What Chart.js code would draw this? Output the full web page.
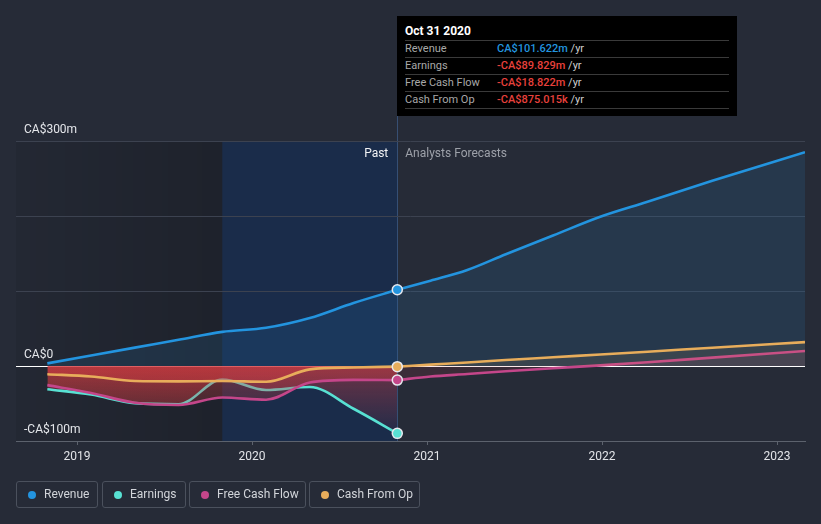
<!DOCTYPE html>
<html>
<head>
<meta charset="utf-8">
<script src="https://cdn.jsdelivr.net/npm/chart.js@4.4.1/dist/chart.umd.min.js"></script>
<style>
html,body{margin:0;padding:0;background:#262b37;}
#wrap{position:relative;width:821px;height:524px;overflow:hidden;font-family:Roboto,"Noto Sans",sans-serif;}
#c{position:absolute;left:0;top:0;}
#tip{position:absolute;left:397px;top:16px;width:340px;height:100px;background:#000;box-sizing:border-box;padding:0 8px;}
#tip .title{position:absolute;left:8px;top:7px;height:16px;line-height:16px;font-size:12px;font-weight:bold;color:#fff;}
#tip .rows{position:absolute;left:8px;top:24px;width:324px;border-bottom:1px solid #3a3a3a;}
#tip .row{height:16px;line-height:16px;border-top:1px solid #3a3a3a;font-size:11px;color:#a8a8a8;white-space:nowrap;}
#tip .row span.l{display:inline-block;width:92px;}
#tip .row span.v{font-weight:500;}
#tip .row span.u{color:#cfcfcf;}
#legend{position:absolute;left:0;top:481px;height:27px;}
.lg{position:absolute;top:0;height:25px;border:1px solid #4b515d;border-radius:3px;color:#d2d5da;font-size:12px;line-height:25px;box-sizing:content-box;white-space:nowrap;}
.lg i{position:absolute;left:11px;top:8.5px;width:8px;height:8px;border-radius:50%;}
.lg span{position:absolute;left:27px;top:0;}
</style>
</head>
<body>
<div id="wrap">
<canvas id="c" width="821" height="524"></canvas>
<div id="tip">
  <div class="title">Oct 31 2020</div>
  <div class="rows">
    <div class="row"><span class="l">Revenue</span><span class="v" style="color:#2394df">CA$101.622m</span><span class="u"> /yr</span></div>
    <div class="row"><span class="l">Earnings</span><span class="v" style="color:#e8413c">-CA$89.829m</span><span class="u"> /yr</span></div>
    <div class="row"><span class="l">Free Cash Flow</span><span class="v" style="color:#e8413c">-CA$18.822m</span><span class="u"> /yr</span></div>
    <div class="row"><span class="l">Cash From Op</span><span class="v" style="color:#e8413c">-CA$875.015k</span><span class="u"> /yr</span></div>
  </div>
</div>
<div id="legend">
  <div class="lg" style="left:16px;width:80px"><i style="background:#2394df"></i><span>Revenue</span></div>
  <div class="lg" style="left:102px;width:82px"><i style="background:#58e1d3"></i><span>Earnings</span></div>
  <div class="lg" style="left:189px;width:115px"><i style="background:#c4468a"></i><span>Free Cash Flow</span></div>
  <div class="lg" style="left:309px;width:109px"><i style="background:#e8ad5b"></i><span>Cash From Op</span></div>
</div>
</div>
<script>
// ---- data (CA$ millions, x = decimal year) ----
const pastDates       = [2018.83, 2019.08, 2019.33, 2019.58, 2019.83, 2020.08, 2020.33, 2020.58, 2020.83];
const revenuePast     = [3.5, 14, 24.5, 35, 45.5, 51, 64, 84, 101.622];
const earningsPast    = [-31, -38, -49.5, -51, -18, -32, -28, -57, -89.829];
const fcfPast         = [-25.5, -36, -49, -52, -42, -45, -22, -18.5, -18.822];
const cashOpPast      = [-11, -14, -20, -20.5, -20, -21, -4.5, -2, -0.875];

const forecastDates   = [2020.83, 2021.02, 2021.23, 2021.45, 2021.72, 2021.99, 2022.26, 2022.63, 2023.16];
const revenueForecast = [101.622, 113.8, 128, 149, 174, 199, 219, 247, 285];
const fcfForecast     = [-18.822, -14, -10.7, -7.1, -3, 0.8, 5, 11.2, 20];
const cashOpForecast  = [-0.875, 1.8, 4.7, 7.9, 11.6, 15.4, 19.1, 24.4, 31.8];

const xTickYears      = [2019, 2020, 2021, 2022, 2023];
const yGridValues     = [-100, 0, 100, 200, 300];
const yLabelValues    = [300, 0, -100];
const yLabelTexts     = ['CA$300m', 'CA$0', '-CA$100m'];

const tooltipDate     = 2020.83;
const highlightStart  = 2019.83;
const xMin = 2018.651, xMax = 2023.16;

const COL = {rev:'#2394df', earn:'#58e1d3', fcf:'#c4468a', cash:'#e8ad5b'};

const pts = (xs, ys) => xs.map((x, i) => ({x, y: ys[i]}));

function redFill(c){
  const ch = c.chart, ca = ch.chartArea;
  if (!ca || !ch.scales.y) return 'rgba(215,60,65,0.3)';
  const y = ch.scales.y;
  const g = ch.ctx.createLinearGradient(0, y.getPixelForValue(0), 0, y.getPixelForValue(-100));
  g.addColorStop(0, 'rgba(215,60,65,0.44)');
  g.addColorStop(1, 'rgba(215,60,65,0.0)');
  return g;
}
const lastRadius = (n) => (c) => c.dataIndex === n - 1 ? 5 : 0;

const base = {
  borderWidth: 2.6,
  cubicInterpolationMode: 'monotone',
  pointBorderColor: '#e8e8ee',
  pointBorderWidth: 1.5,
  pointHoverRadius: 0,
};

const datasets = [
  // past
  Object.assign({}, base, {label:'Cash From Op', data: pts(pastDates, cashOpPast), borderColor: COL.cash,
    pointBackgroundColor: COL.cash, pointRadius: lastRadius(pastDates.length),
    fill: {target:'origin', above:'rgba(0,0,0,0)'}, backgroundColor: redFill, order: 0}),
  Object.assign({}, base, {label:'Free Cash Flow', data: pts(pastDates, fcfPast), borderColor: COL.fcf,
    pointBackgroundColor: COL.fcf, pointRadius: lastRadius(pastDates.length),
    fill: {target:'origin', above:'rgba(0,0,0,0)'}, backgroundColor: redFill, order: 1}),
  Object.assign({}, base, {label:'Earnings', data: pts(pastDates, earningsPast), borderColor: COL.earn,
    pointBackgroundColor: COL.earn, pointRadius: lastRadius(pastDates.length),
    fill: {target:'origin', above:'rgba(0,0,0,0)'}, backgroundColor: redFill, order: 2}),
  Object.assign({}, base, {label:'Revenue', data: pts(pastDates, revenuePast), borderColor: COL.rev,
    pointBackgroundColor: COL.rev, pointRadius: lastRadius(pastDates.length),
    fill: {target:'origin'}, backgroundColor: 'rgba(35,148,223,0.13)', order: 3}),
  // forecast
  Object.assign({}, base, {label:'Cash From Op forecast', data: pts(forecastDates, cashOpForecast), borderColor: COL.cash,
    pointRadius: 0, fill: {target:'origin', above:'rgba(232,173,91,0.10)', below:'rgba(215,60,65,0.10)'}, order: 0}),
  Object.assign({}, base, {label:'Free Cash Flow forecast', data: pts(forecastDates, fcfForecast), borderColor: COL.fcf,
    pointRadius: 0, fill: {target:'origin', above:'rgba(196,70,138,0.10)', below:'rgba(215,60,65,0.12)'}, order: 1}),
  Object.assign({}, base, {label:'Revenue forecast', data: pts(forecastDates, revenueForecast), borderColor: COL.rev,
    pointRadius: 0, fill: {target:'origin'}, backgroundColor: 'rgba(35,148,223,0.13)', order: 3}),
];

const regionsPlugin = {
  id: 'regions',
  beforeDraw(chart){
    const {ctx, chartArea: ca, scales: {x}} = chart;
    const hx = x.getPixelForValue(highlightStart);
    const tx = x.getPixelForValue(tooltipDate);
    ctx.save();
    const g = ctx.createLinearGradient(ca.left, 0, hx, 0);
    g.addColorStop(0, 'rgba(0,0,0,0.06)');
    g.addColorStop(1, 'rgba(0,0,0,0.2)');
    ctx.fillStyle = g;
    ctx.fillRect(ca.left, ca.top, hx - ca.left, ca.bottom - ca.top);
    ctx.fillStyle = 'rgba(10,45,100,0.42)';
    ctx.fillRect(hx, ca.top, tx - hx, ca.bottom - ca.top);
    ctx.strokeStyle = 'rgba(70,110,165,0.55)';
    ctx.lineWidth = 1;
    ctx.beginPath();
    ctx.moveTo(Math.round(tx) + 0.5, 16);
    ctx.lineTo(Math.round(tx) + 0.5, ca.bottom);
    ctx.stroke();
    ctx.restore();
  },
  afterDatasetsDraw(chart){
    const {ctx, chartArea: ca, scales: {x, y}} = chart;
    ctx.save();
    ctx.font = '12px Roboto, "Noto Sans", sans-serif';
    ctx.fillStyle = '#e4e6ea';
    ctx.textBaseline = 'alphabetic';
    ctx.textAlign = 'left';
    yLabelValues.forEach((v, i) => {
      ctx.fillText(yLabelTexts[i], ca.left + 8, y.getPixelForValue(v) - 8);
    });
    const tx = x.getPixelForValue(tooltipDate);
    ctx.textBaseline = 'middle';
    ctx.textAlign = 'right';
    ctx.fillStyle = '#f2f3f5';
    ctx.fillText('Past', tx - 9, ca.top + 12.5);
    ctx.textAlign = 'left';
    ctx.fillStyle = '#9da1a9';
    ctx.fillText('Analysts Forecasts', tx + 8, ca.top + 12.5);
    ctx.restore();
  }
};

new Chart(document.getElementById('c'), {
  type: 'line',
  data: { datasets },
  plugins: [regionsPlugin],
  options: {
    responsive: false,
    animation: false,
    devicePixelRatio: 1,
    events: [],
    layout: { padding: { left: 16, right: 16, top: 141, bottom: 53 } },
    plugins: { legend: { display: false }, tooltip: { enabled: false } },
    scales: {
      x: {
        type: 'linear', min: xMin, max: xMax,
        afterBuildTicks: s => { s.ticks = xTickYears.map(v => ({value: v})); },
        afterFit: s => { s.height = 30; },
        grid: { drawOnChartArea: false, drawTicks: true, tickLength: 4, tickColor: '#5c626d' },
        border: { display: true, color: '#5c626d', width: 1 },
        ticks: { color: '#e2e4e8', font: { family: 'Roboto', size: 12 }, padding: 5, maxRotation: 0,
                 callback: v => String(v) }
      },
      y: {
        type: 'linear', min: -100, max: 300,
        afterBuildTicks: s => { s.ticks = yGridValues.map(v => ({value: v})); },
        afterFit: s => { s.width = 0; },
        ticks: { display: false },
        border: { display: false },
        grid: { drawTicks: false, lineWidth: 1,
                color: c => c.tick && c.tick.value === 0 ? '#ffffff' : (c.tick && c.tick.value === -100 ? '#5c626d' : '#3c4250') }
      }
    }
  }
});
</script>
</body>
</html>
